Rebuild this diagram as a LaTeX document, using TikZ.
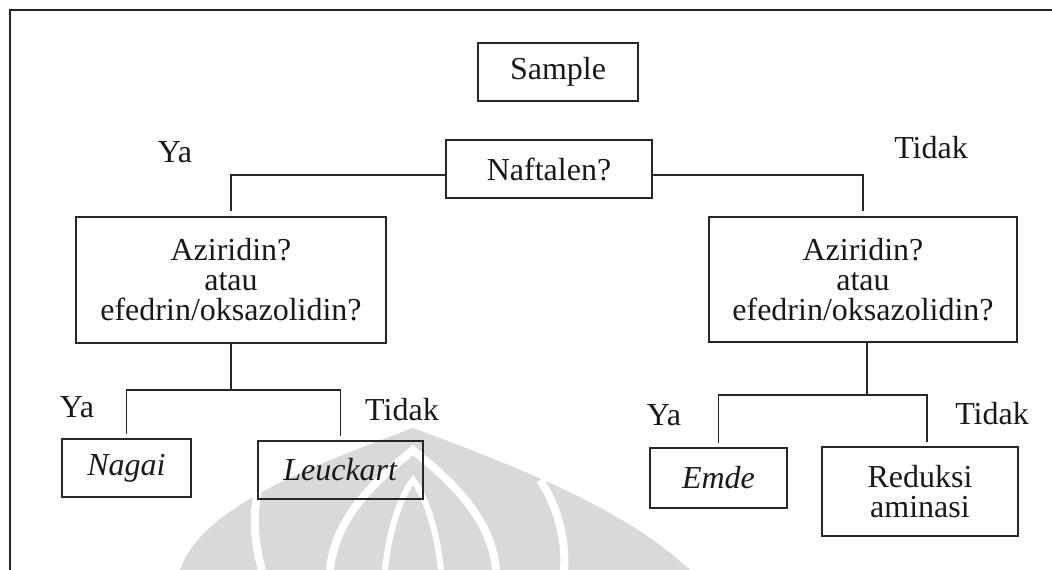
\documentclass[tikz,border=0pt]{standalone}
\usepackage{fontspec}
\setmainfont{Liberation Serif}
\usetikzlibrary{positioning}

\begin{document}
\begin{tikzpicture}[x=1pt, y=-1pt,
boxnode/.style={rectangle, draw=black!85, line width=1.6pt, align=center, inner sep=0pt, text=black!90, font=\fontsize{32}{30}\selectfont},
labelnode/.style={anchor=base, inner sep=0pt, text=black!90, font=\fontsize{32}{30}\selectfont},
link/.style={draw=black!85, line width=1.6pt},
]
\useasboundingbox (0,0) rectangle (1052,570);

%Watermark
\fill[black!15] (180,570) .. controls (200,510) and (300,470) .. (413,428) .. controls (526,470) and (626,510) .. (690,570) -- cycle;
\draw[white, line width=8pt] (262,478) .. controls (250,510) and (255,545) .. (262,570);
\draw[white, line width=8pt] (540,480) .. controls (560,510) and (566,545) .. (564,570);
\draw[white, line width=8pt] (330,570) .. controls (335,510) and (390,470) .. (413,450) .. controls (436,470) and (491,510) .. (496,570);
\draw[white, line width=6pt] (385,570) .. controls (390,520) and (405,490) .. (413,480) .. controls (421,490) and (436,520) .. (441,570);

%Frame
\draw[link] (1052,10) -- (10,10) -- (10,570);

%Nodes
\node[boxnode, minimum width=160pt, minimum height=58pt]  (sample)  at (558,72)    {Sample};
\node[boxnode, minimum width=206pt, minimum height=58pt]  (naft)    at (549,169)   {Naftalen?};
\node[boxnode, minimum width=310pt, minimum height=126pt] (aziL)    at (231,280)   {Aziridin?\\atau\\efedrin/oksazolidin?};
\node[boxnode, minimum width=308pt, minimum height=125pt] (aziR)    at (863,279.5) {Aziridin?\\atau\\efedrin/oksazolidin?};
\node[boxnode, minimum width=129pt, minimum height=58pt]  (nagai)   at (126.5,468) {\textit{Nagai}};
\node[boxnode, minimum width=165pt, minimum height=58pt]  (leuck)   at (340.5,470) {\textit{Leuckart}};
\node[boxnode, minimum width=137pt, minimum height=60pt]  (emde)    at (718.5,478) {\textit{Emde}};
\node[boxnode, minimum width=196pt, minimum height=89pt]  (reduksi) at (920,491.5) {Reduksi\\aminasi};

%Labels
\node[labelnode] (yaTop)      at (175,162) {Ya};
\node[labelnode] (tidakTop)   at (931,158) {Tidak};
\node[labelnode] (yaLeft)     at (77,417)  {Ya};
\node[labelnode] (tidakLeft)  at (402,420) {Tidak};
\node[labelnode] (yaRight)    at (664,425) {Ya};
\node[labelnode] (tidakRight) at (992,424) {Tidak};

%Lines
\draw[link, shorten <=2pt, shorten >=3pt] (sample.south) -- (sample.south -| 559,0 |- naft.north);
\draw[link, shorten >=5pt] ([yshift=-6pt]naft.west) -| (aziL.north);
\draw[link, shorten >=5pt] ([yshift=-6pt]naft.east) -| (aziR.north);
\draw[link] (aziL.south) -- ++(0,46) coordinate (forkL);
\draw[link, shorten >=4pt] (forkL) -| (nagai.north);
\draw[link, shorten >=4pt] (forkL) -| (leuck.north);
\draw[link] ([xshift=4pt]aziR.south) -- ++(0,52) coordinate (forkR);
\draw[link, shorten >=4pt] (forkR) -| (emde.north);
\draw[link, shorten >=4pt] (forkR) -| ([xshift=7pt]reduksi.north);

\end{tikzpicture}
\end{document}
